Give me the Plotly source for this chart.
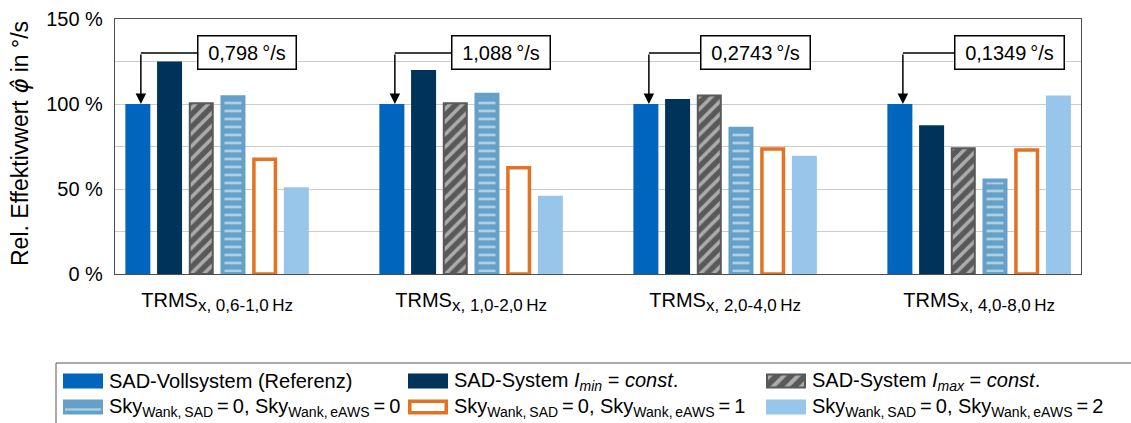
import plotly.graph_objects as go

# ---- data -------------------------------------------------------------
SUB = '<sub><span style="font-size:17px">{}</span></sub>'
groups = [
    "TRMS" + SUB.format("x, 0,6-1,0\u2009Hz"),
    "TRMS" + SUB.format("x, 1,0-2,0\u2009Hz"),
    "TRMS" + SUB.format("x, 2,0-4,0\u2009Hz"),
    "TRMS" + SUB.format("x, 4,0-8,0\u2009Hz"),
]
series_names = [
    "SAD-Vollsystem (Referenz)",
    "SAD-System <i>I</i><sub><i>min</i></sub> = <i>const</i>.",
    "SAD-System <i>I</i><sub><i>max</i></sub> = <i>const</i>.",
    "Sky<sub>Wank,\u2009SAD</sub>\u2009=\u20090, Sky<sub>Wank,\u2009eAWS</sub>\u2009=\u20090",
    "Sky<sub>Wank,\u2009SAD</sub>\u2009=\u20090, Sky<sub>Wank,\u2009eAWS</sub>\u2009=\u20091",
    "Sky<sub>Wank,\u2009SAD</sub>\u2009=\u20090, Sky<sub>Wank,\u2009eAWS</sub>\u2009=\u20092",
]
ref_vollsystem = [100, 100, 100, 100]
sys_imin = [125, 120, 103, 87.5]
sys_imax = [100.5, 100.5, 105, 74]
sky_eaws0 = [104, 105.5, 85.5, 55]
sky_eaws1 = [67.5, 62.5, 73.5, 73]
sky_eaws2 = [51, 46, 69.5, 105]
ref_abs_values = ["0,798", "1,088", "0,2743", "0,1349"]
ytick_vals = [0, 50, 100, 150]
ytick_text = ["0 %", "50 %", "100 %", "150 %"]

series_values = [ref_vollsystem, sys_imin, sys_imax, sky_eaws0, sky_eaws1, sky_eaws2]

# ---- styling ----------------------------------------------------------
FONT = "Liberation Sans, Arial, Helvetica, sans-serif"
W, H = 1131, 423
PLOT_L, PLOT_R, PLOT_T, PLOT_B = 115, 1081, 19, 274
X_RANGE = [-0.402, 3.401]
PX = (X_RANGE[1] - X_RANGE[0]) / (PLOT_R - PLOT_L)   # x data units per pixel
SLOT = 31.7 * PX
BAR_W = 25 * PX

BLUE = "#0065BD"
DARK = "#003359"
GRAY = "#595959"
MID = "#64A0C8"
ORANGE = "#E37222"
LIGHT = "#98C6EA"

styles = [
    dict(color=BLUE, line=dict(width=0)),
    dict(color=DARK, line=dict(width=0)),
    dict(color=GRAY, line=dict(color=GRAY, width=2),
         pattern=dict(shape="/", fgcolor="white", bgcolor=GRAY, size=9, solidity=0.4)),
    dict(color=MID, line=dict(color=MID, width=4),
         pattern=dict(shape="-", fgcolor="white", bgcolor=MID, size=8, solidity=0.34)),
    dict(color="white", line=dict(color=ORANGE, width=3.5)),
    dict(color=LIGHT, line=dict(width=0)),
]

fig = go.Figure()

for j, (name, vals, st) in enumerate(zip(series_names, series_values, styles)):
    lw = st["line"].get("width", 0)
    w = BAR_W - lw * PX
    centre = (j - 2.5) * SLOT
    fig.add_trace(go.Bar(
        x=groups, y=vals, name=name,
        width=[w] * len(groups), offset=[centre - w / 2] * len(groups),
        marker=st, showlegend=False, xaxis="x", yaxis="y",
    ))

# ---- absolute reference values with elbow arrows ------------------------
BOX_Y = 130
for i, lab in enumerate(ref_abs_values):
    box_x = i + 30 * PX
    arrow_x = i + (0 - 2.5) * SLOT + 3 * PX
    fig.add_annotation(
        x=box_x, y=BOX_Y, xref="x", yref="y", showarrow=False,
        text=lab + "\u2009°/s", font=dict(family=FONT, size=20, color="black"),
        bgcolor="white", bordercolor="black", borderwidth=1.5, borderpad=4,
        width=89 + 11 * (len(lab) - 5), height=24,
    )
    fig.add_shape(type="line", xref="x", yref="y",
                  x0=arrow_x, x1=box_x, y0=BOX_Y, y1=BOX_Y,
                  line=dict(color="black", width=1.5), layer="above")
    fig.add_annotation(
        x=arrow_x, y=ref_vollsystem[i], ax=arrow_x, ay=BOX_Y,
        xref="x", yref="y", axref="x", ayref="y", text="",
        showarrow=True, arrowhead=2, arrowsize=1.4, arrowwidth=1.5,
        arrowcolor="black", standoff=0,
    )

# ---- y-axis title -------------------------------------------------------
fig.add_annotation(
    xref="paper", yref="paper", x=20 / W, y=1 - 144 / H, showarrow=False,
    xanchor="center", yanchor="middle",
    text='Rel. Effektivwert <span style="font-family:DejaVu Sans"><i>φ\u0302</i></span> in °/s',
    textangle=-90,
    font=dict(family=FONT, size=23, color="black"),
)

# ---- legend (swatches drawn as bars on a pixel-scaled helper axis) ------
LEG_COLS = [63, 408, 766]
LEG_ROWS = [381, 407]
SW_W, SW_H = 40, 15
for k, (name, st) in enumerate(zip(series_names, styles)):
    row, col = divmod(k, 3)
    cx = LEG_COLS[col] + SW_W / 2
    cy = LEG_ROWS[row]
    lw = st["line"].get("width", 0)
    sst = dict(st)
    if "pattern" in st:
        p = dict(st["pattern"])
        if p["shape"] == "-":
            p["size"] = SW_H - 2
            p["solidity"] = 0.18
        else:
            p["size"] = 10
        sst["pattern"] = p
        sst["line"] = dict(color=st["color"], width=2)
        lw = 2
    fig.add_trace(go.Bar(
        x=[cx], y=[SW_H - lw], base=[H - cy - (SW_H - lw) / 2],
        width=[SW_W - lw], marker=sst, showlegend=False,
        xaxis="x2", yaxis="y2", hoverinfo="skip",
    ))
    fig.add_annotation(
        xref="paper", yref="paper", x=(LEG_COLS[col] + SW_W + 4) / W,
        y=1 - cy / H, xanchor="left", yanchor="middle", showarrow=False,
        text=name, font=dict(family=FONT, size=20, color="black"),
    )

fig.add_shape(type="rect", xref="paper", yref="paper",
              x0=56 / W, x1=1.01, y0=1 - 363 / H, y1=-0.02,
              line=dict(color="#555555", width=1), fillcolor="rgba(0,0,0,0)",
              layer="below")

fig.update_layout(
    width=W, height=H, margin=dict(l=0, r=0, t=0, b=0),
    paper_bgcolor="white", plot_bgcolor="rgba(0,0,0,0)", barmode="overlay",
    font=dict(family=FONT, size=20, color="black"),
    xaxis=dict(
        domain=[PLOT_L / W, PLOT_R / W], range=X_RANGE, type="category",
        showline=True, linecolor="#4d4d4d", linewidth=1.2, mirror=True,
        showgrid=False, ticks="", ticklabelstandoff=8,
        tickfont=dict(family=FONT, size=20, color="black"), automargin=False,
    ),
    yaxis=dict(
        domain=[1 - PLOT_B / H, 1 - PLOT_T / H], range=[0, 150],
        tickvals=ytick_vals, ticktext=ytick_text,
        showline=True, linecolor="#4d4d4d", linewidth=1.2, mirror=True,
        showgrid=True, gridcolor="#cccccc", gridwidth=1,
        minor=dict(dtick=25, showgrid=True, gridcolor="#cccccc", gridwidth=1),
        ticks="", ticklabelstandoff=7, zeroline=False,
        tickfont=dict(family=FONT, size=20, color="black"), automargin=False,
    ),
    xaxis2=dict(domain=[0, 1], range=[0, W], visible=False, anchor="y2",
                fixedrange=True),
    yaxis2=dict(domain=[0, 1], range=[0, H], visible=False, anchor="x2",
                fixedrange=True),
)

fig.write_html("out.html")
